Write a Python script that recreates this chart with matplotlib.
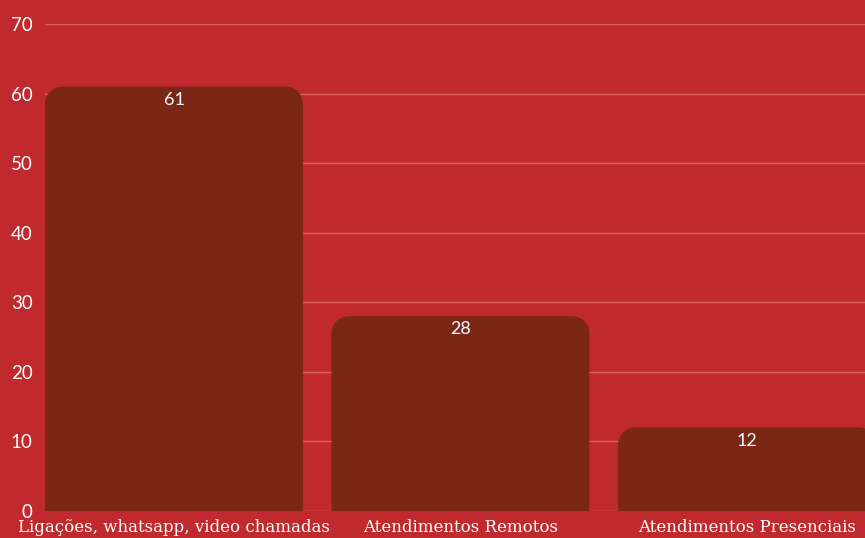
import matplotlib
matplotlib.use("Agg")
import matplotlib.pyplot as plt
from matplotlib.path import Path
from matplotlib.patches import PathPatch

categorias = ["Ligações, whatsapp, video chamadas", "Atendimentos Remotos", "Atendimentos Presenciais"]
valores = [61, 28, 12]
yticks = [0, 10, 20, 30, 40, 50, 60, 70]

FUNDO = "#C0292D"
BARRA = "#7A2718"
GRADE = "#D9625F"
W, H = 865, 538

fig = plt.figure(figsize=(W / 100, H / 100), dpi=100, facecolor=FUNDO)
# eixo vai além da borda direita, a última barra fica cortada
x0, x1 = 45, 876
y0, y1 = 511, 24
ax = fig.add_axes([x0 / W, 1 - y0 / H, (x1 - x0) / W, (y0 - y1) / H])
ax.set_facecolor(FUNDO)

largura = 0.9
ax.set_xlim(-largura / 2, len(valores) - 1 + largura / 2)
ax.set_ylim(0, 70)

# raio dos cantos em pixels, convertido para unidades de dados
raio_px = 17
px_x = (x1 - x0) / (len(valores) - 1 + largura)
px_y = (y0 - y1) / 70
rx, ry = raio_px / px_x, raio_px / px_y
k = 0.5523

def barra_arredondada(xc, h):
    l, r = xc - largura / 2, xc + largura / 2
    verts = [
        (l, 0), (l, h - ry),
        (l, h - ry + k * ry), (l + rx - k * rx, h), (l + rx, h),
        (r - rx, h),
        (r - rx + k * rx, h), (r, h - ry + k * ry), (r, h - ry),
        (r, 0), (l, 0),
    ]
    codes = [Path.MOVETO, Path.LINETO,
             Path.CURVE4, Path.CURVE4, Path.CURVE4,
             Path.LINETO,
             Path.CURVE4, Path.CURVE4, Path.CURVE4,
             Path.LINETO, Path.CLOSEPOLY]
    return PathPatch(Path(verts, codes), facecolor=BARRA, edgecolor="none", zorder=3)

for i, v in enumerate(valores):
    ax.add_patch(barra_arredondada(i, v))
    ax.annotate(str(v), (i, v), xytext=(0, -9.5), textcoords="offset points",
                ha="center", va="center", color="white", fontsize=13,
                family="Lato", zorder=4)

ax.set_yticks(yticks)
ax.set_yticklabels([str(t) for t in yticks], family="Lato", fontsize=13.5, color="white")
ax.yaxis.grid(True, color=GRADE, linewidth=1)
ax.set_axisbelow(True)
ax.tick_params(axis="y", length=0, pad=9)
ax.set_xticks(range(len(categorias)))
ax.set_xticklabels(categorias, family="DejaVu Serif", fontsize=12, color="white")
ax.tick_params(axis="x", length=0, pad=6)
for s in ax.spines.values():
    s.set_visible(False)

fig.savefig("out.png", dpi=100, facecolor=FUNDO)
